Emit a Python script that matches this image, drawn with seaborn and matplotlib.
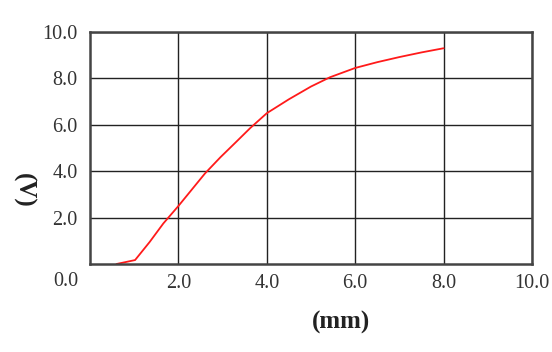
import matplotlib
matplotlib.use("Agg")
import matplotlib.pyplot as plt
import seaborn as sns
import pandas as pd

# curve
distance_mm = [0.6, 1.02, 1.35, 1.66, 2.0, 2.3, 2.6, 2.95, 3.3, 3.62, 4.0, 4.5, 5.0, 5.43, 6.0, 6.5, 7.0, 7.5, 8.0]
voltage_v = [0.0, 0.17, 0.95, 1.75, 2.5, 3.2, 3.9, 4.6, 5.25, 5.85, 6.5, 7.1, 7.65, 8.05, 8.45, 8.7, 8.92, 9.12, 9.3]

x_ticks = [2.0, 4.0, 6.0, 8.0, 10.0]
y_ticks = [2.0, 4.0, 6.0, 8.0, 10.0]

df = pd.DataFrame({"mm": distance_mm, "V": voltage_v})

sns.set_style("white")
plt.rcParams["font.family"] = ["Liberation Serif", "DejaVu Serif"]

fig = plt.figure(figsize=(5.52, 3.52), dpi=100)
ax = fig.add_axes([90 / 552, 1 - 264 / 352, 442 / 552, 232 / 352])

sns.lineplot(data=df, x="mm", y="V", ax=ax, color="#ff1a1a", linewidth=1.3)

ax.set_xlim(0, 10)
ax.set_ylim(0, 10)
ax.set_xticks(x_ticks)
ax.set_yticks(y_ticks)
ax.set_xticklabels([f"{t:.1f}" for t in x_ticks])
ax.set_yticklabels([f"{t:.1f}" for t in y_ticks])
ax.tick_params(length=0, labelsize=14.5, colors="#333333")
ax.tick_params(axis="y", pad=9)
ax.tick_params(axis="x", pad=7)
ax.grid(True, color="#222222", linewidth=1.0)
ax.set_axisbelow(True)
for s in ax.spines.values():
    s.set_color("#444444")
    s.set_linewidth(1.8)
ax.set_xlabel("")
ax.set_ylabel("")

# shared origin label
fig.text(78 / 552, 1 - 281 / 352, "0.0", ha="right", va="center", fontsize=14.5, color="#333333")
fig.text(341 / 552, 1 - 322 / 352, "(mm)", ha="center", va="center", fontsize=18, fontweight="bold", color="#222222")
fig.text(23 / 552, 1 - 190 / 352, "(V)", ha="center", va="center", fontsize=18, fontweight="bold", rotation=-90, color="#222222")

fig.savefig("out.png", dpi=100)
